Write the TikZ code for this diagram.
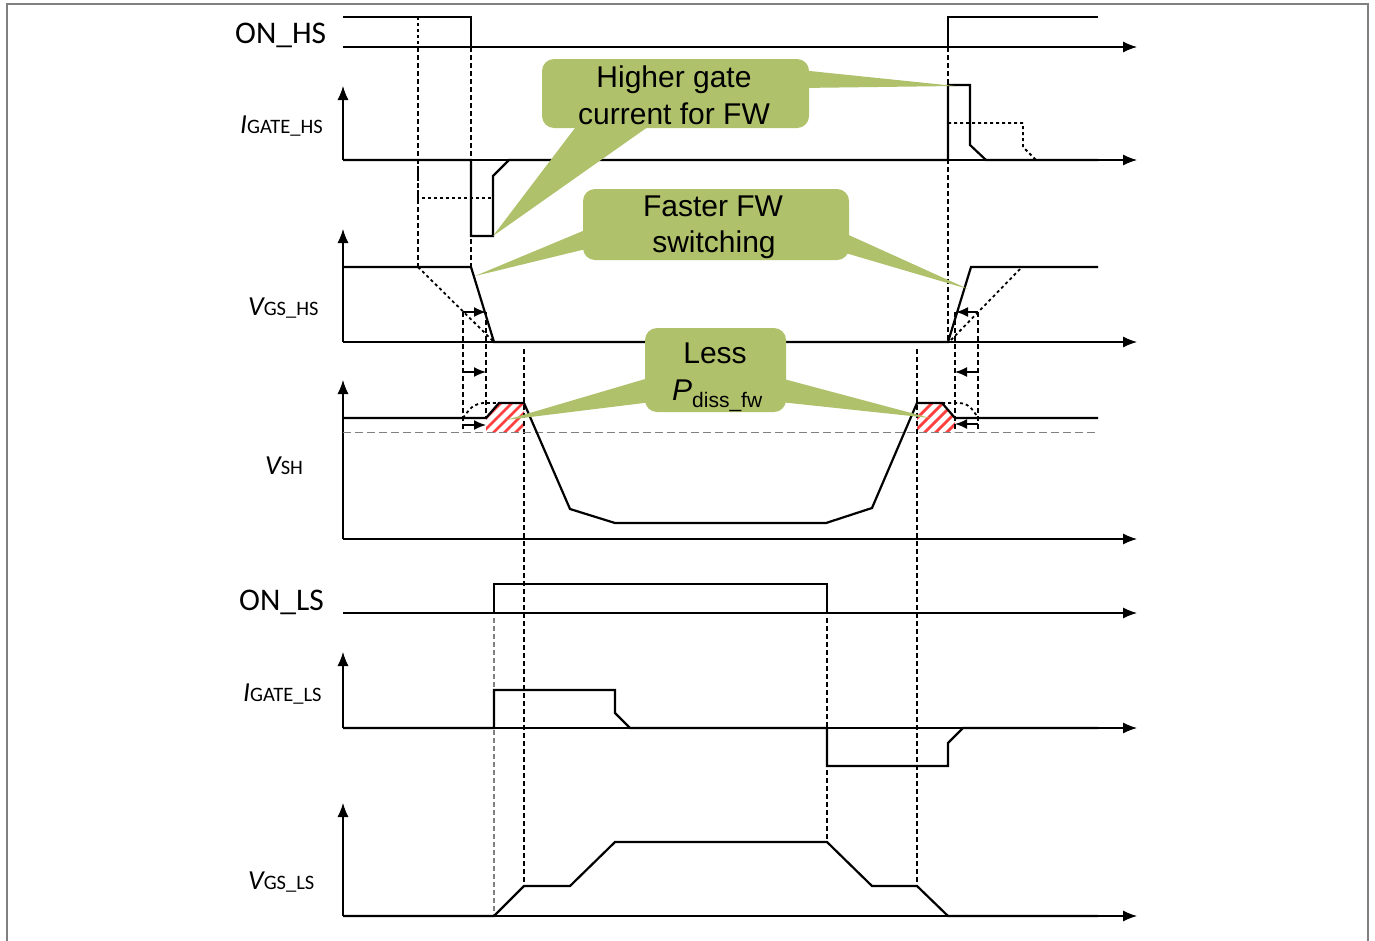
\documentclass[tikz,border=0pt]{standalone}
\usepackage{fontspec}
\setmainfont{Carlito}
\newfontfamily\arialf{Liberation Sans}
\usetikzlibrary{arrows.meta}
\definecolor{cgreen}{RGB}{175,193,106}
\definecolor{frame}{RGB}{128,128,128}
\newcommand{\signame}[2]{{\fontsize{27.5}{30}\selectfont\itshape #1}{\fontsize{20.5}{24}\selectfont #2}}
\begin{document}
\begin{tikzpicture}[x=1pt,y=-1pt,
  axis/.style={line width=1.1pt,-{Latex[length=14pt,width=11pt]}},
  sig/.style={line width=2.2pt,line join=miter},
  alt/.style={line width=1.8pt,dash pattern=on 3pt off 3pt},
  guide/.style={line width=1.1pt,dash pattern=on 5pt off 3pt},
  tarrow/.style={line width=1.6pt,-{Latex[length=12pt,width=10pt]}},
  lbl/.style={anchor=base west,inner sep=0pt,font=\fontsize{31.5}{36}\selectfont},
  slbl/.style={anchor=base west,inner sep=0pt},
  ctext/.style={anchor=base,inner sep=0pt,font=\arialf\fontsize{30}{36}\selectfont},
  hatch/.style={red!75!white,line width=2.8pt},
  callout/.style={fill=cgreen,draw=none}]
\useasboundingbox (0,0) rectangle (1375,940);
\fill[white] (0,0) rectangle (1375,940);
% frame
\draw[frame,line width=2pt] (7,945) -- (7,4) -- (1368,4) -- (1368,945);

% labels
\node[lbl] (lOnHs) at (235,43) {ON\_HS};
\node[slbl] (lIgHs) at (240,133) {\signame{I}{GATE\_HS}};
\node[slbl] (lVgHs) at (248,315) {\signame{V}{GS\_HS}};
\node[slbl] (lVsh) at (265,474) {\signame{V}{SH}};
\node[lbl] (lOnLs) at (239,610) {ON\_LS};
\node[slbl] (lIgLs) at (243,701) {\signame{I}{GATE\_LS}};
\node[slbl] (lVgLs) at (248,889) {\signame{V}{GS\_LS}};

% hatched areas
\begin{scope}
\clip (486,418) -- (499,403) -- (524,403) -- (524,432.5) -- (486,432.5) -- cycle;
\foreach \i in {0,...,9} \draw[hatch] (462+\i*11,442) -- ++(50,-50);
\end{scope}
\begin{scope}
\clip (917,403) -- (942,403) -- (955,418) -- (955,432.5) -- (917,432.5) -- cycle;
\foreach \i in {0,...,9} \draw[hatch] (893+\i*11,442) -- ++(50,-50);
\end{scope}

% guide lines
\draw[guide] (418,47) -- (418,267);
\draw[guide] (471,47) -- (471,267);
\draw[guide] (948,47) -- (948,342);
\draw[guide] (463,312) -- (463,432);
\draw[guide] (486,312) -- (486,418);
\draw[guide] (955,312) -- (955,432);
\draw[guide] (978,312) -- (978,432);
\draw[guide] (524,349) -- (524,886);
\draw[guide] (917,349) -- (917,886);
\draw[guide,gray] (494,618) -- (494,916);
\draw[guide] (827,618) -- (827,842);

% ON_HS
\draw[axis] (343,47) -- (1137,47);
\draw[sig] (343,17) -- (471,17) -- (471,47) -- (948,47) -- (948,17) -- (1098,17);
\draw[alt] (418,17) -- (418,47) -- (471,47);

% I_GATE_HS
\draw[axis] (343,160) -- (343,86);
\draw[axis] (343,160) -- (1137,160);
\draw[sig] (343,160) -- (471,160) -- (471,236) -- (493,236) -- (493,176) -- (509,160) -- (948,160) -- (948,85) -- (970,85) -- (970,145) -- (986,160) -- (1098,160);
\draw[alt] (418,160) -- (418,198) -- (493,198);
\draw[alt] (948,123) -- (1023,123) -- (1023,147) -- (1036,160);

% V_GS_HS
\draw[axis] (343,342) -- (343,229);
\draw[axis] (343,342) -- (1137,342);
\draw[sig] (343,267) -- (471,267) -- (494,342) -- (948,342) -- (971,267) -- (1098,267);
\draw[alt] (418,267) -- (494,342);
\draw[alt] (951,340) -- (1022,267);

% timing arrows
\draw[tarrow] (463,312) -- (486,312);
\draw[tarrow] (463,372) -- (486,372);
\draw[tarrow] (463,425) -- (486,425);
\draw[tarrow] (978,312) -- (956,312);
\draw[tarrow] (978,372) -- (955,372);
\draw[tarrow] (978,424) -- (955,424);

% V_SH
\draw[axis] (343,539) -- (343,380);
\draw[axis] (343,539) -- (1137,539);
\draw[frame,line width=1pt,dash pattern=on 8pt off 4pt] (343,432.5) -- (1098,432.5);
\draw[sig] (343,418) -- (486,418) -- (499,403) -- (524,403) -- (570,509) -- (615,523) -- (826,523) -- (872,508) -- (917,403) -- (942,403) -- (955,418) -- (1098,418);
\draw[alt] (463,418) .. controls (472,405) and (476,403) .. (486,403) -- (499,403);
\draw[alt] (942,403) -- (958,403) .. controls (968,403) and (972,408) .. (978,418);

% ON_LS
\draw[axis] (343,613) -- (1137,613);
\draw[sig] (343,613) -- (494,613) -- (494,584) -- (827,584) -- (827,613) -- (1098,613);

% I_GATE_LS
\draw[axis] (343,728) -- (343,652);
\draw[axis] (343,728) -- (1137,728);
\draw[sig] (343,728) -- (494,728) -- (494,690) -- (615,690) -- (615,713) -- (630,728) -- (827,728) -- (827,766) -- (948,766) -- (948,743) -- (963,728) -- (1098,728);

% V_GS_LS
\draw[axis] (343,916) -- (343,803);
\draw[axis] (343,916) -- (1137,916);
\draw[sig] (343,916) -- (494,916) -- (524,886) -- (570,886) -- (615,842) -- (827,842) -- (872,886) -- (917,886) -- (948,916) -- (1098,916);

% callout 1
\fill[callout,rounded corners=12pt] (542,59) rectangle (809,128);
\fill[callout] (578,124) -- (652,124) -- (493,236) -- cycle;
\fill[callout] (800,70) -- (955,86) -- (800,88) -- cycle;
\node[ctext] (c1a) at (674,87) {Higher gate};
\node[ctext] (c1b) at (674,124) {current for FW};

% callout 2
\fill[callout,rounded corners=12pt] (583,189) rectangle (849,260);
\fill[callout] (590,228) -- (475,276) -- (590,248) -- cycle;
\fill[callout] (842,232) -- (968,289) -- (842,252) -- cycle;
\node[ctext] (c2a) at (713,216) {Faster FW};
\node[ctext] (c2b) at (714,252) {switching};

% callout 3
\fill[callout,rounded corners=12pt] (645,328) rectangle (786,412);
\fill[callout] (652,377) -- (506,420) -- (652,402) -- cycle;
\fill[callout] (780,378) -- (930,418) -- (780,402) -- cycle;
\node[ctext] (c3a) at (715,363) {Less};
\node[ctext,anchor=base west] (c3b) at (672,400) {\itshape P\fontsize{21}{24}\selectfont\raisebox{-7pt}{\upshape diss\_fw}};
\end{tikzpicture}
\end{document}
